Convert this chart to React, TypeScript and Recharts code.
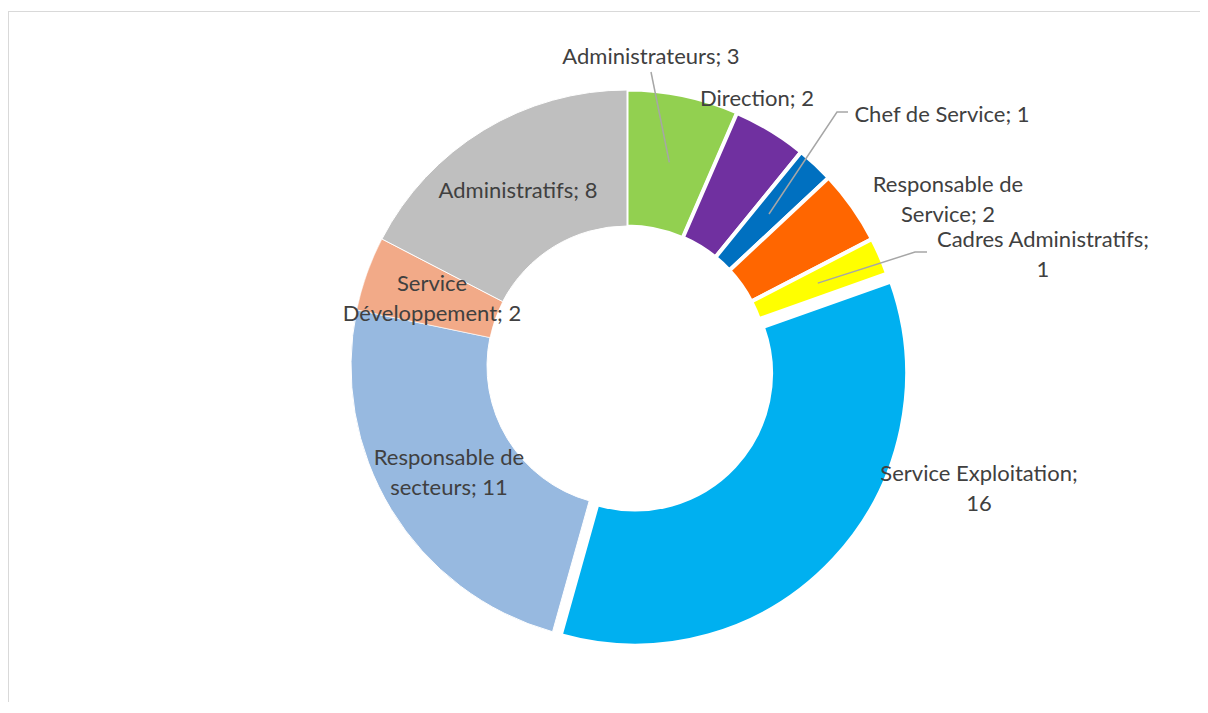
import { PieChart, Pie, Cell } from 'recharts'

const categories = [
  'Administrateurs',
  'Direction',
  'Chef de Service',
  'Responsable de Service',
  'Cadres Administratifs',
  'Service Exploitation',
  'Responsable de secteurs',
  'Service Développement',
  'Administratifs',
]
const counts = [3, 2, 1, 2, 1, 16, 11, 2, 8]

const COLORS = ['#92d050', '#7030a0', '#0070c0', '#ff6600', '#ffff00', '#00b0f0', '#97b9e0', '#f2aa88', '#bfbfbf']
const STROKE_W = [3, 4, 4, 4, 4, 2, 1, 0.5, 1]

// the one slice pulled out of the ring
const EXPLODED = 'Service Exploitation'
const EXPLODE_DIST = 11

// label placement: offset of the text block from the pie centre, words on the first line,
// and optional leader line points (drawn from the label towards the slice)
const LABEL_LAYOUT = [
  { dx: 24, dy: -311, breakAfter: 0, leader: [[24, -294]] },
  { dx: 130, dy: -269, breakAfter: 0, leader: [] },
  { dx: 315, dy: -253, breakAfter: 0, leader: [[221, -254], [210, -254]] },
  { dx: 321, dy: -168, breakAfter: 2, leader: [] },
  { dx: 416, dy: -113, breakAfter: 2, leader: [[300, -114], [288, -114]] },
  { dx: 352, dy: 121, breakAfter: 2, leader: [] },
  { dx: -178, dy: 105, breakAfter: 2, leader: [] },
  { dx: -195, dy: -69, breakAfter: 1, leader: [] },
  { dx: -109, dy: -177, breakAfter: 0, leader: [] },
]

const data = categories.map((name, i) => ({ name, value: counts[i] }))

const RAD = Math.PI / 180
const CX = 618
const CY = 354
const LINE_H = 29.5

const total = counts.reduce((s, v) => s + v, 0)
const explIdx = categories.indexOf(EXPLODED)
const before = counts.slice(0, explIdx).reduce((s, v) => s + v, 0)
const explMid = ((before + counts[explIdx] / 2) / total) * 360
const explCx = CX + EXPLODE_DIST * Math.sin(explMid * RAD)
const explCy = CY - EXPLODE_DIST * Math.cos(explMid * RAD)

function renderLabel(props: any) {
  const { cx, cy, midAngle, innerRadius, outerRadius, index, name, value } = props
  const lay = LABEL_LAYOUT[index]
  const text = `${name}; ${value}`
  const words = text.split(' ')
  const lines = lay.breakAfter ? [words.slice(0, lay.breakAfter).join(' '), words.slice(lay.breakAfter).join(' ')] : [text]
  const mr = (innerRadius + outerRadius) / 2
  const ax = cx + mr * Math.cos(-midAngle * RAD)
  const ay = cy + mr * Math.sin(-midAngle * RAD)
  const tx = cx + lay.dx
  const ty = cy + lay.dy - ((lines.length - 1) * LINE_H) / 2
  const pts = lay.leader.length
    ? [[ax, ay], ...lay.leader.slice().reverse().map(([px, py]) => [cx + px, cy + py])]
    : []
  return (
    <g key={`lbl-${index}`}>
      {pts.length > 0 && (
        <polyline
          points={pts.map((p) => p.join(',')).join(' ')}
          fill="none"
          stroke="#a6a6a6"
          strokeWidth={1.5}
        />
      )}
      <text x={tx} y={ty} textAnchor="middle" dominantBaseline="central" fill="#404040" fontSize={22} fontFamily="Lato, sans-serif">
        {lines.map((l, i) => (
          <tspan key={i} x={tx} dy={i === 0 ? 0 : LINE_H}>
            {l}
          </tspan>
        ))}
      </text>
    </g>
  )
}

export default function App() {
  return (
    <div style={{ paddingTop: 3 }}>
      <div style={{ width: 1199, height: 690, borderTop: '1px solid #d9d9d9', borderLeft: '1px solid #d9d9d9' }}>
        <PieChart width={1198} height={690} margin={{ top: 0, right: 0, bottom: 0, left: 0 }}>
          <Pie
            data={data}
            dataKey="value"
            nameKey="name"
            cx={CX}
            cy={CY}
            innerRadius={140}
            outerRadius={276}
            startAngle={90}
            endAngle={-270}
            label={renderLabel}
            labelLine={false}
            isAnimationActive={false}
          >
            {data.map((entry, index) => (
              <Cell
                key={`cell-${index}`}
                fill={entry.name === EXPLODED ? 'transparent' : COLORS[index]}
                stroke={entry.name === EXPLODED ? 'none' : '#ffffff'}
                strokeWidth={STROKE_W[index]}
              />
            ))}
          </Pie>
          <Pie
            data={data}
            dataKey="value"
            nameKey="name"
            cx={explCx}
            cy={explCy}
            innerRadius={137}
            outerRadius={271}
            startAngle={90}
            endAngle={-270}
            labelLine={false}
            isAnimationActive={false}
          >
            {data.map((entry, index) => (
              <Cell
                key={`ex-${index}`}
                fill={entry.name === EXPLODED ? COLORS[index] : 'transparent'}
                stroke={entry.name === EXPLODED ? '#ffffff' : 'none'}
                strokeWidth={STROKE_W[index]}
              />
            ))}
          </Pie>
        </PieChart>
      </div>
    </div>
  )
}
